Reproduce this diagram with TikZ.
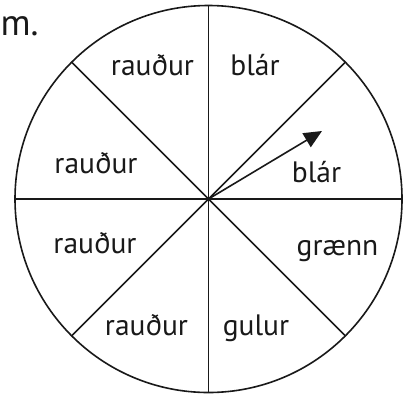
\documentclass[tikz,border=0pt]{standalone}
\usepackage{fontspec}
\setmainfont{PT Sans}
\usetikzlibrary{arrows.meta,calc}
\begin{document}
\begin{tikzpicture}[x=1pt,y=-1pt,
  line/.style={line width=1.6pt,black!90},
  lbl/.style={anchor=base,inner sep=0pt,font=\fontsize{29.5}{34}\selectfont,text=black!90}]
\useasboundingbox (0,0) rectangle (403,394);
\coordinate (c) at (208.5,199);
\draw[line] (c) circle[radius=193.5];
\foreach \a in {0,45,90,135}{
  \draw[line] ($(c)+(\a:193.5)$) coordinate (p\a) -- ($(c)+(\a+180:193.5)$) coordinate (q\a);
}
\coordinate (tip) at (322,131);
\draw[line,-{Triangle[length=18pt,width=16pt]}] (c) -- (tip);
\node[anchor=base west,inner sep=0pt,font=\fontsize{37}{44}\selectfont,text=black!90] (m) at (0.5,35) {m.};
\node[lbl] (l1) at (152.5,75) {rauður};
\node[lbl] (l2) at (255,75) {blár};
\node[lbl] (l3) at (96,173) {rauður};
\node[lbl] (l4) at (316.5,182) {blár};
\node[lbl] (l5) at (95,253) {rauður};
\node[lbl] (l6) at (337.5,255) {grænn};
\node[lbl] (l7) at (146.5,335) {rauður};
\node[lbl] (l8) at (256,335) {gulur};
\end{tikzpicture}
\end{document}
